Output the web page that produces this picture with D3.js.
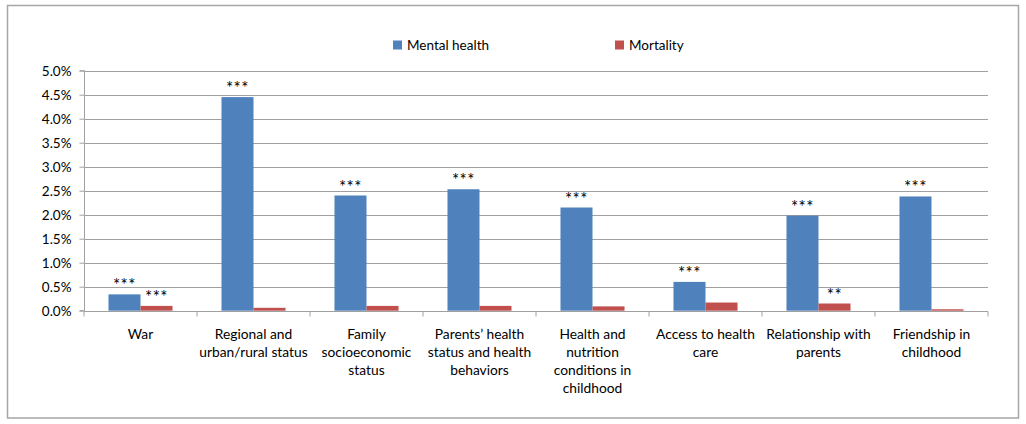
<!DOCTYPE html>
<html><head><meta charset="utf-8">
<script src="https://cdn.jsdelivr.net/npm/d3@7"></script>
<style>
body{margin:0;background:#fff;}
text{font-family:Lato,"Open Sans",sans-serif;fill:#000;}
</style></head>
<body><svg id="c" width="1026" height="424"></svg>
<script>
const categories = [
  ["War"],
  ["Regional and","urban/rural status"],
  ["Family","socioeconomic","status"],
  ["Parents\u2019 health","status and health","behaviors"],
  ["Health and","nutrition","conditions in","childhood"],
  ["Access to health","care"],
  ["Relationship with","parents"],
  ["Friendship in","childhood"]
];
const seriesNames = ["Mental health","Mortality"];
const mentalHealth = [0.0034,0.0445,0.0240,0.0253,0.0215,0.0060,0.0198,0.0238];
const mortality    = [0.0010,0.0006,0.0010,0.0010,0.0009,0.0017,0.0015,0.0003];
const mentalStars  = ["***","***","***","***","***","***","***","***"];
const mortalStars  = ["***","","","","","","**",""];
const yTicks = [0,0.005,0.01,0.015,0.02,0.025,0.03,0.035,0.04,0.045,0.05];
const colors = ["#4f81bd","#c0504d"];

const svg = d3.select("#c");
svg.append("rect").attr("x",7.5).attr("y",5.5).attr("width",1011).attr("height",412.5)
  .attr("fill","#fff").attr("stroke","#a6a6a6").attr("stroke-width",1.5);

const L=84, R=988, T=70.7, B=310.7;
const x = d3.scaleBand().domain(d3.range(categories.length)).range([L,R]).paddingInner(0).paddingOuter(0);
const xs = d3.scaleBand().domain([0,1]).range([0,x.bandwidth()]).paddingInner(0).paddingOuter(0.765);
const y = d3.scaleLinear().domain([0,0.05]).range([B,T]);

// gridlines
svg.append("g").selectAll("line").data(yTicks.filter(d=>d>0)).join("line")
  .attr("x1",L).attr("x2",R).attr("y1",d=>Math.round(y(d))+0.5).attr("y2",d=>Math.round(y(d))+0.5)
  .attr("stroke","#a0a0a0").attr("stroke-width",1.2);

// y axis
const ya = svg.append("g").attr("transform",`translate(${L+0.5},0)`)
  .call(d3.axisLeft(y).tickValues(yTicks).tickFormat(d3.format(".1%")).tickSize(5).tickPadding(8));
ya.select(".domain").attr("stroke","#a0a0a0").attr("d",`M-5,${T}H0V${B}H-5`);
ya.selectAll(".tick line").attr("stroke","#a0a0a0");
ya.selectAll(".tick text").attr("font-size",13.5).attr("font-family","Lato");

// x axis
const xa = svg.append("g").attr("transform",`translate(0,${Math.round(B)+0.5})`);
xa.append("line").attr("x1",L).attr("x2",R).attr("stroke","#a0a0a0").attr("stroke-width",1.2);
xa.selectAll(".tk").data(d3.range(categories.length+1)).join("line")
  .attr("x1",i=>i<categories.length?x(i):R).attr("x2",i=>i<categories.length?x(i):R)
  .attr("y1",0).attr("y2",5).attr("stroke","#a0a0a0");

// bars
const data = [mentalHealth, mortality];
const stars = [mentalStars, mortalStars];
data.forEach((vals,s)=>{
  svg.append("g").selectAll("rect").data(vals).join("rect")
    .attr("x",(d,i)=>x(i)+xs(s)).attr("width",xs.bandwidth())
    .attr("y",d=>y(d)).attr("height",d=>B-y(d)).attr("fill",colors[s]);
  svg.append("g").selectAll("text").data(vals).join("text")
    .attr("x",(d,i)=>x(i)+xs(s)+xs.bandwidth()/2).attr("y",d=>y(d)-3)
    .attr("text-anchor","middle").attr("font-size",17).attr("letter-spacing",0.5)
    .text((d,i)=>stars[s][i]);
});

// category labels
const cl = svg.append("g").selectAll("text").data(categories).join("text")
  .attr("text-anchor","middle").attr("font-size",13.8);
cl.each(function(lines,i){
  d3.select(this).selectAll("tspan").data(lines).join("tspan")
    .attr("x",x(i)+x.bandwidth()/2).attr("y",(l,j)=>338.5+j*18.3).text(l=>l);
});

// legend
const lg = svg.append("g");
const lx=[393,615];
seriesNames.forEach((n,s)=>{
  lg.append("rect").attr("x",lx[s]).attr("y",40.5).attr("width",9).attr("height",9).attr("fill",colors[s]);
  lg.append("text").attr("x",lx[s]+14).attr("y",49.5).attr("font-size",13.5).text(n);
});
</script></body></html>
